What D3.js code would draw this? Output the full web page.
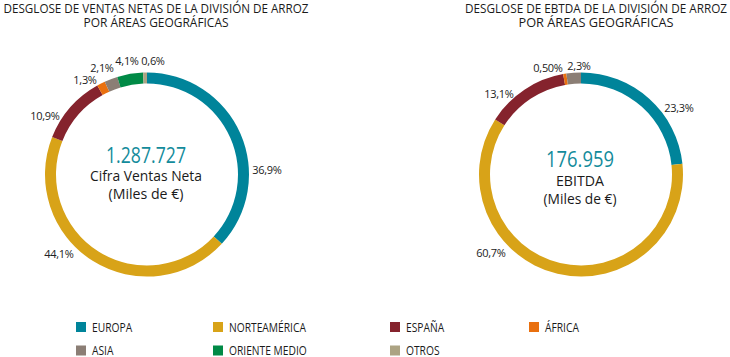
<!DOCTYPE html>
<html><head><meta charset="utf-8">
<script src="https://cdn.jsdelivr.net/npm/d3@7/dist/d3.min.js"></script>
<style>
html,body{margin:0;padding:0;background:#fff;}
svg{display:block;font-family:"Open Sans",sans-serif;}
</style></head>
<body>
<script>
// ---- DATA ----
const categories = ["EUROPA","NORTEAMÉRICA","ESPAÑA","ÁFRICA","ASIA","ORIENTE MEDIO","OTROS"];
const colors = ["#00849a","#d8a318","#85232d","#e9700f","#8b7e75","#008a46","#aca383"];
const ventasValues = [36.9,44.1,10.9,1.3,2.1,4.1,0.6];
const ventasLabels = ["36,9%","44,1%","10,9%","1,3%","2,1%","4,1%","0,6%"];
const ebitdaValues = [23.3,60.7,13.1,0.5,2.3,0,0];
const ebitdaLabels = ["23,3%","60,7%","13,1%","0,50%","2,3%","",""];
const titles = [
  ["DESGLOSE DE VENTAS NETAS DE LA DIVISIÓN DE ARROZ","POR ÁREAS GEOGRÁFICAS"],
  ["DESGLOSE DE EBTDA DE LA DIVISIÓN DE ARROZ","POR ÁREAS GEOGRÁFICAS"]
];
const centerValues = ["1.287.727","176.959"];
const centerLines = [["Cifra Ventas Neta","(Miles de €)"],["EBITDA","(Miles de €)"]];

// ---- LAYOUT ----
const W = 730, H = 357;
const charts = [
  {cx:147, cy:174.5, values:ventasValues, labels:ventasLabels, titleX:156, titleW:[305,145],
   numBase:163, lineBase:[181,199], numW:80, lineW:[112,75],
   labelPos:[[120,-5],[-88,79],[-102,-59],[-62,-95],[-45,-107],[-20,-114],[6,-114]]},
  {cx:581, cy:174.5, values:ebitdaValues, labels:ebitdaLabels, titleX:596, titleW:[262,155],
   numBase:167, lineBase:[186,204], numW:68, lineW:[48,73],
   labelPos:[[98,-67],[-90,78],[-82,-81],[-33,-107],[-2,-109],[0,0],[0,0]]}
];
const rOuter = 102, rInner = 91;

const svg = d3.select("body").append("svg").attr("width",W).attr("height",H);

const pie = d3.pie().sort(null).value(d=>d);
const arc = d3.arc().innerRadius(rInner).outerRadius(rOuter);

charts.forEach((c,ci)=>{
  // title
  const t = svg.append("g");
  titles[ci].forEach((line,li)=>{
    t.append("text").attr("x",c.titleX).attr("y",12.5+li*14.5)
      .attr("text-anchor","middle").attr("font-size",12.5).attr("fill","#1a1a1a")
      .attr("textLength",c.titleW[li]).attr("lengthAdjust","spacingAndGlyphs")
      .text(line);
  });
  const g = svg.append("g").attr("transform",`translate(${c.cx},${c.cy})`);
  const arcs = pie(c.values);
  g.selectAll("path").data(arcs.filter(a=>a.value>0)).join("path")
    .attr("d",arc).attr("fill",d=>colors[d.index]);
  // labels
  g.selectAll("text.lbl").data(c.labels.map((l,i)=>({l,i})).filter(d=>d.l)).join("text")
    .attr("class","lbl")
    .attr("x",d=>c.labelPos[d.i][0]).attr("y",d=>c.labelPos[d.i][1]+4)
    .attr("text-anchor","middle").attr("font-size",11).attr("fill","#222")
    .attr("letter-spacing",-0.3)
    .text(d=>d.l);
  // center
  svg.append("text").attr("x",c.cx-1).attr("y",c.numBase).attr("text-anchor","middle")
    .attr("font-size",21).attr("font-weight",500).attr("fill","#138b9b")
    .attr("textLength",c.numW).attr("lengthAdjust","spacingAndGlyphs")
    .text(centerValues[ci]);
  centerLines[ci].forEach((line,li)=>{
    svg.append("text").attr("x",c.cx-1).attr("y",c.lineBase[li]).attr("text-anchor","middle")
      .attr("font-size",14).attr("fill","#1a1a1a")
      .attr("textLength",c.lineW[li]).attr("lengthAdjust","spacingAndGlyphs")
      .text(line);
  });
});

// legend
const legX = [76,213,390,529];
const legY = [327,350.5];
const leg = svg.append("g");
categories.forEach((cat,i)=>{
  const col = i<4 ? i : i-4, row = i<4 ? 0 : 1;
  const x = legX[col], y = legY[row];
  leg.append("rect").attr("x",x).attr("y",y-5).attr("width",10).attr("height",10).attr("fill",colors[i]);
  const tx = leg.append("text").attr("x",x+16).attr("y",y+4.5)
    .attr("font-size",12.5).attr("fill","#1a1a1a").text(cat);
  const len = tx.node().getComputedTextLength();
  tx.attr("textLength",len*0.82).attr("lengthAdjust","spacingAndGlyphs");
});
</script>
</body></html>
